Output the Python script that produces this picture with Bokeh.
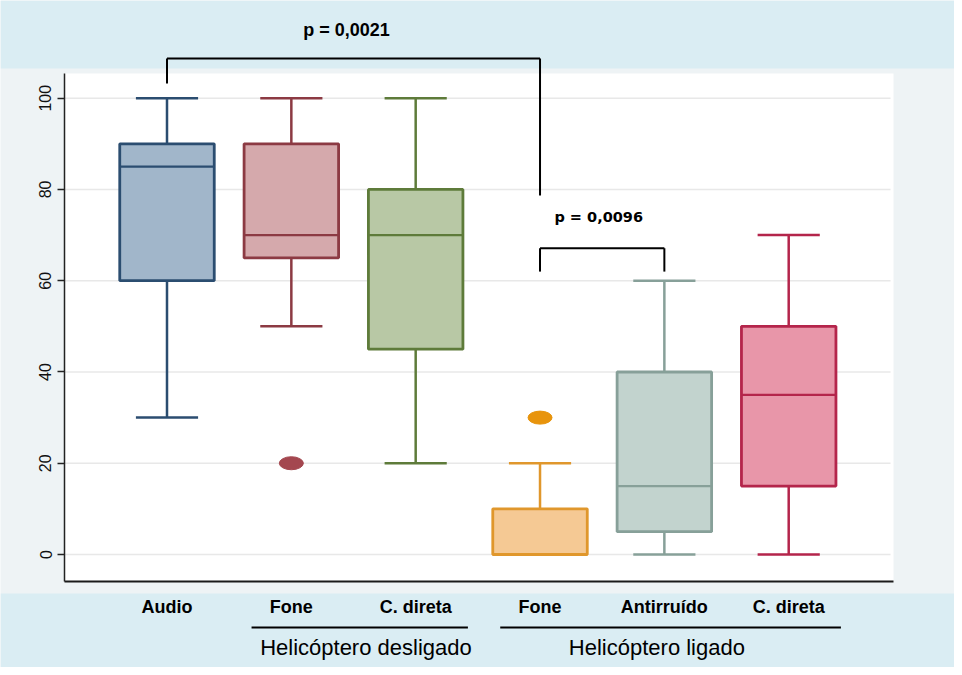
from bokeh.plotting import figure
from bokeh.models import (Range1d, FixedTicker, BoxAnnotation, Label, Arrow, LinearAxis)
from bokeh.embed import file_html
from bokeh.resources import INLINE

# ---------------- data ----------------
categories = ["Audio", "Fone", "C. direta", "Fone", "Antirruído", "C. direta"]
groups = ["Helicóptero desligado", "Helicóptero ligado"]
group_first = [2, 4]   # first / last category (1-based) under each group label
group_last = [3, 6]

lower_whisker = [30, 50, 20, 0, 0, 0]
q1 = [60, 65, 45, 0, 5, 15]
median = [85, 70, 70, 0, 15, 35]
q3 = [90, 90, 80, 10, 40, 50]
upper_whisker = [100, 100, 100, 20, 60, 70]

outlier_pos = [2, 4]
outlier_val = [20, 30]

y_ticks = [0, 20, 40, 60, 80, 100]

p_labels = ["p = 0,0021", "p = 0,0096"]
p_from = [1, 4]
p_to = [4, 5]
p_bar_y = [108.7, 67.1]
p_left_end = [103.2, 62.0]
p_right_end = [78.7, 62.0]
p_text_y = [115.0, 73.9]

# ---------------- styles / layout ----------------
fill_colors = ["#A1B6CA", "#D5A9AC", "#B8C8A5", "#F5C994", "#C2D3CE", "#E896A9"]
line_colors = ["#2B4D70", "#8C3A43", "#5E7B3A", "#E0972C", "#87A099", "#B4254B"]
outlier_colors = ["#A4474F", "#E8940C"]

BAND_BLUE = "#DAEDF3"
PANEL = "#EEF3F5"
BOX_W = 0.76
CAP_W = 0.5
W, H = 954, 667

# pixel <-> data mapping of the picture (the frame covers the whole canvas)
X1_PX, PX_PER_CAT = 166.5, 124.34
Y0_PX, PX_PER_UNIT = 554.0, 4.563


def xd(px):
    return 1 + (px - X1_PX) / PX_PER_CAT


def yd(py):
    return (Y0_PX - py) / PX_PER_UNIT


PLOT_L, PLOT_R, PLOT_T, PLOT_B = xd(64), xd(893), yd(73), yd(581)

p = figure(width=W, height=H, output_backend="svg", toolbar_location=None,
           x_range=Range1d(xd(0), xd(W)), y_range=Range1d(yd(H), yd(0)),
           x_axis_location=None, y_axis_location=None,
           min_border=0, min_border_left=0, min_border_right=0,
           min_border_top=0, min_border_bottom=0,
           border_fill_color=PANEL, background_fill_color=PANEL,
           outline_line_color=None)
p.grid.visible = False

# background panels
for (l, r, b, t, c) in [(xd(0), xd(W), yd(68), yd(0), BAND_BLUE),
                        (xd(0), xd(W), yd(668), yd(593), BAND_BLUE),
                        (xd(0), xd(W), yd(H), yd(668), "black"),
                        (PLOT_L, PLOT_R, PLOT_B, PLOT_T, "white")]:
    p.add_layout(BoxAnnotation(left=l, right=r, bottom=b, top=t, fill_color=c, fill_alpha=1,
                               line_color=None, level="underlay"))

xs = list(range(1, len(categories) + 1))

# horizontal grid lines inside the plot area
p.segment(x0=[PLOT_L] * len(y_ticks), y0=y_ticks, x1=[xd(890)] * len(y_ticks), y1=y_ticks,
          line_color="#E8E8E8", line_width=1.5)

# whiskers
p.segment(x0=xs, y0=q3, x1=xs, y1=upper_whisker, line_color=line_colors, line_width=2.5)
p.segment(x0=xs, y0=q1, x1=xs, y1=lower_whisker, line_color=line_colors, line_width=2.5)
p.segment(x0=[x - CAP_W / 2 for x in xs], y0=upper_whisker, x1=[x + CAP_W / 2 for x in xs],
          y1=upper_whisker, line_color=line_colors, line_width=2.5)
p.segment(x0=[x - CAP_W / 2 for x in xs], y0=lower_whisker, x1=[x + CAP_W / 2 for x in xs],
          y1=lower_whisker, line_color=line_colors, line_width=2.5)
# boxes
p.vbar(x=xs, width=BOX_W, bottom=q1, top=q3, fill_color=fill_colors,
       line_color=line_colors, line_width=2.8)
# medians
p.segment(x0=[x - BOX_W / 2 for x in xs], y0=median, x1=[x + BOX_W / 2 for x in xs],
          y1=median, line_color=line_colors, line_width=2.2)
# outliers
p.ellipse(x=outlier_pos, y=outlier_val, width=24, height=13, width_units="screen",
          height_units="screen", fill_color=outlier_colors, line_color=outlier_colors)

# axes (fixed inside the canvas-wide frame)
yaxis = LinearAxis(fixed_location=PLOT_L, bounds=(PLOT_B, PLOT_T),
                   ticker=FixedTicker(ticks=y_ticks))
yaxis.major_label_orientation = "vertical"
yaxis.major_label_text_font = "Liberation Sans"
yaxis.major_label_text_font_size = "16px"
yaxis.major_label_text_color = "#111111"
yaxis.major_tick_out = 7
yaxis.major_tick_in = 0
yaxis.major_tick_line_color = "#222222"
yaxis.major_tick_line_width = 1.5
yaxis.minor_tick_line_color = None
yaxis.axis_line_color = "#222222"
yaxis.axis_line_width = 1.5
yaxis.major_label_standoff = 6
p.add_layout(yaxis, "left")

xaxis = LinearAxis(fixed_location=PLOT_B, bounds=(PLOT_L, PLOT_R),
                   ticker=FixedTicker(ticks=xs))
xaxis.major_label_overrides = {x: c for x, c in zip(xs, categories)}
xaxis.major_tick_line_color = None
xaxis.minor_tick_line_color = None
xaxis.axis_line_color = "#1a1a1a"
xaxis.axis_line_width = 2
xaxis.major_label_standoff = 9
xaxis.major_label_text_font = "Liberation Sans"
xaxis.major_label_text_font_style = "bold"
xaxis.major_label_text_font_size = "18px"
xaxis.major_label_text_color = "#000000"
p.add_layout(xaxis, "below")

# group lines and labels
GROUP_LINE_Y = yd(627)
GROUP_TEXT_Y = yd(647)
group_text_dx = [0.05, -0.11]
for g, a, b, dx in zip(groups, group_first, group_last, group_text_dx):
    x0 = a - 0.32
    x1 = b + 0.42
    p.add_layout(Arrow(end=None, x_start=x0, y_start=GROUP_LINE_Y, x_end=x1, y_end=GROUP_LINE_Y,
                       line_color="black", line_width=2))
    p.add_layout(Label(x=(x0 + x1) / 2 + dx, y=GROUP_TEXT_Y, text=g, text_align="center",
                       text_baseline="middle", text_font="Liberation Sans",
                       text_font_size="22px", text_color="black"))

# significance brackets
p_fonts = ["Liberation Sans", "DejaVu Sans"]
p_sizes = ["18px", "14.5px"]
p_text_dx = [-0.056, -0.028]
for lab, a, b, yb, yl, yrr, yt, f, s, dx in zip(p_labels, p_from, p_to, p_bar_y, p_left_end,
                                                  p_right_end, p_text_y, p_fonts, p_sizes, p_text_dx):
    for (xa, ya, xb, yb2) in [(a, yb, b, yb), (a, yb, a, yl), (b, yb, b, yrr)]:
        p.add_layout(Arrow(end=None, x_start=xa, y_start=ya, x_end=xb, y_end=yb2,
                           line_color="black", line_width=2))
    p.add_layout(Label(x=(a + b) / 2 + dx, y=yt, text=lab, text_align="center",
                       text_baseline="middle", text_font=f, text_font_style="bold",
                       text_font_size=s, text_color="black"))

open("out.html", "w").write(file_html(p, INLINE))
